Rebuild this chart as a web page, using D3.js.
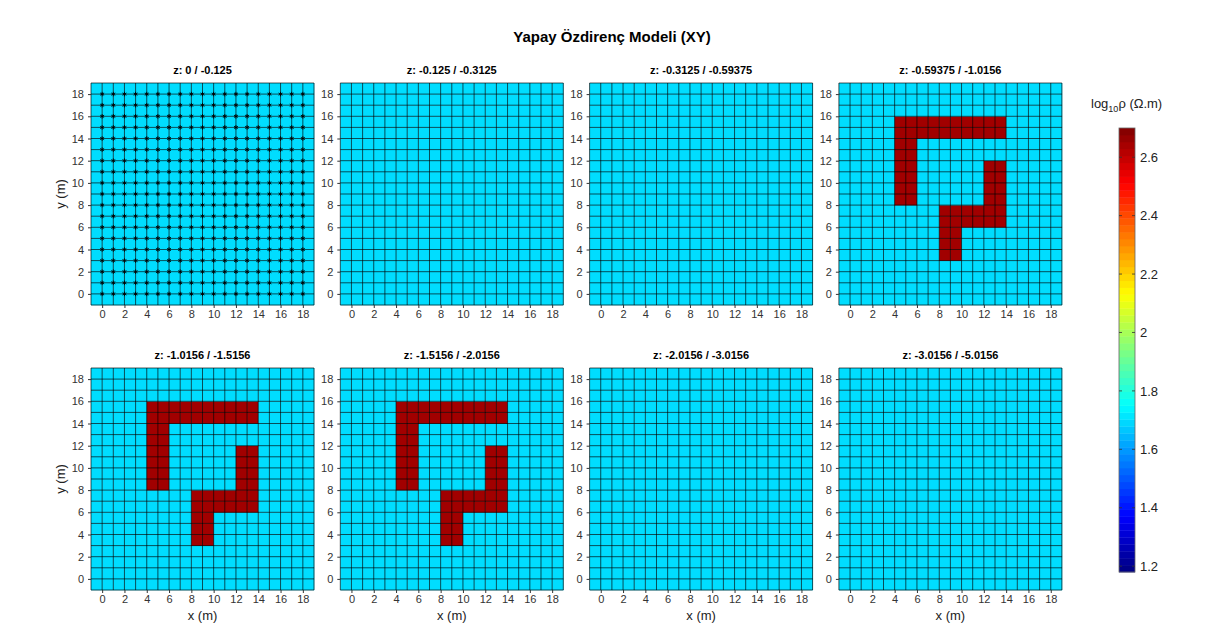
<!DOCTYPE html>
<html>
<head>
<meta charset="utf-8">
<script src="https://cdn.jsdelivr.net/npm/d3@7"></script>
<style>
  body { margin: 0; background: #fff; }
  text { font-family: "Liberation Sans", Arial, sans-serif; }
</style>
</head>
<body>
<div class="chart"></div>
<script>
var svgWidth = 1227;
var svgHeight = 644;

// data
var layerTitles = ["z: 0 / -0.125", "z: -0.125 / -0.3125", "z: -0.3125 / -0.59375", "z: -0.59375 / -1.0156",
  "z: -1.0156 / -1.5156", "z: -1.5156 / -2.0156", "z: -2.0156 / -3.0156", "z: -3.0156 / -5.0156"];
var layerHasBlock = [false, false, false, true, true, true, false, false];
var backgroundLog = 1.70;
var blockLog = 2.65;
// anomaly rectangles: [x0, x1, y0, y1]
var blockRects = [[4, 14, 14, 16], [4, 6, 8, 14], [12, 14, 6, 12], [8, 14, 6, 8], [8, 10, 3, 6]];
var cellEdges = d3.range(-1, 20);          // -1 ... 19
var axisTicks = d3.range(0, 19, 2);        // 0, 2, ... 18
var stationPts = d3.range(0, 19);          // electrode grid 0..18
var colorTicks = [1.2, 1.4, 1.6, 1.8, 2, 2.2, 2.4, 2.6];
var colorMin = 1.18, colorMax = 2.70;

// layout
var panelLeft = 91, colStep = 249.3, panelW = 223, panelH = 222;
var rowTop = [83, 368];

function jet(t) {
  t = Math.max(0, Math.min(1, t));
  var r = Math.max(0, Math.min(1, Math.min(4 * t - 1.5, -4 * t + 4.5)));
  var g = Math.max(0, Math.min(1, Math.min(4 * t - 0.5, -4 * t + 3.5)));
  var b = Math.max(0, Math.min(1, Math.min(4 * t + 0.5, -4 * t + 2.5)));
  return d3.rgb(r * 255, g * 255, b * 255).toString();
}
var color = v => jet((v - colorMin) / (colorMax - colorMin));

// build cell table for each layer
function cellsFor(hasBlock) {
  var cells = [];
  for (var i = 0; i < cellEdges.length - 1; i++) {
    for (var j = 0; j < cellEdges.length - 1; j++) {
      var x0 = cellEdges[i], y0 = cellEdges[j];
      var inside = hasBlock && blockRects.some(r => x0 >= r[0] && x0 < r[1] && y0 >= r[2] && y0 < r[3]);
      cells.push({ x0: x0, x1: x0 + 1, y0: y0, y1: y0 + 1, v: inside ? blockLog : backgroundLog });
    }
  }
  return cells;
}

var svg = d3.select(".chart")
  .append("svg")
  .attr("width", svgWidth)
  .attr("height", svgHeight);

svg.append("text")
  .attr("x", 612).attr("y", 42)
  .attr("text-anchor", "middle")
  .attr("font-size", 15).attr("font-weight", "bold")
  .text("Yapay Özdirenç Modeli (XY)");

layerTitles.forEach(function(title, k) {
  var col = k % 4, row = Math.floor(k / 4);
  var g = svg.append("g")
    .attr("transform", `translate(${panelLeft + col * colStep}, ${rowTop[row]})`);

  var xScale = d3.scaleLinear().domain([-1, 19]).range([0, panelW]);
  var yScale = d3.scaleLinear().domain([-1, 19]).range([panelH, 0]);

  g.selectAll("rect.cell")
    .data(cellsFor(layerHasBlock[k]))
    .enter()
    .append("rect")
    .attr("class", "cell")
    .attr("x", d => xScale(d.x0))
    .attr("y", d => yScale(d.y1))
    .attr("width", d => xScale(d.x1) - xScale(d.x0) + 0.3)
    .attr("height", d => yScale(d.y0) - yScale(d.y1) + 0.3)
    .attr("fill", d => color(d.v));

  // cell edges
  g.selectAll("line.vx")
    .data(cellEdges).enter().append("line")
    .attr("x1", d => xScale(d)).attr("x2", d => xScale(d))
    .attr("y1", 0).attr("y2", panelH)
    .attr("stroke", "#000").attr("stroke-opacity", 0.65).attr("stroke-width", 1);
  g.selectAll("line.hy")
    .data(cellEdges).enter().append("line")
    .attr("y1", d => yScale(d)).attr("y2", d => yScale(d))
    .attr("x1", 0).attr("x2", panelW)
    .attr("stroke", "#000").attr("stroke-opacity", 0.65).attr("stroke-width", 1);

  // electrode points on first layer
  if (k === 0) {
    var pts = [];
    stationPts.forEach(x => stationPts.forEach(y => pts.push([x, y])));
    g.selectAll("path.pt")
      .data(pts).enter().append("path")
      .attr("transform", d => `translate(${xScale(d[0])}, ${yScale(d[1])})`)
      .attr("d", d3.symbol(d3.symbolAsterisk, 14))
      .attr("stroke", "#000").attr("stroke-width", 0.9);
  }

  var xAxis = d3.axisBottom(xScale).tickValues(axisTicks).tickSize(3).tickSizeOuter(0).tickPadding(2);
  var yAxis = d3.axisLeft(yScale).tickValues(axisTicks).tickSize(3).tickSizeOuter(0).tickPadding(4);

  var gx = g.append("g").attr("transform", `translate(0, ${panelH})`).call(xAxis);
  var gy = g.append("g").call(yAxis);
  [gx, gy].forEach(function(a) {
    a.select(".domain").remove();
    a.selectAll("line").attr("stroke", "#333");
    a.selectAll("text").attr("font-size", 11).attr("fill", "#333")
      .attr("font-family", "'Liberation Sans', Arial, sans-serif");
  });

  g.append("text")
    .attr("x", panelW / 2).attr("y", -9)
    .attr("text-anchor", "middle")
    .attr("font-size", 11).attr("font-weight", "bold")
    .text(title);

  if (col === 0) {
    g.append("text")
      .attr("transform", `translate(-26, ${panelH / 2}) rotate(-90)`)
      .attr("text-anchor", "middle")
      .attr("font-size", 13).attr("fill", "#222")
      .text("y (m)");
  }
  if (row === 1) {
    g.append("text")
      .attr("x", panelW / 2).attr("y", panelH + 30)
      .attr("text-anchor", "middle")
      .attr("font-size", 13).attr("fill", "#222")
      .text("x (m)");
  }
});

// colorbar
var cbX = 1119, cbW = 16, cbTop = 128, cbBottom = 572;
var cbScale = d3.scaleLinear().domain([colorMin, colorMax]).range([cbBottom, cbTop]);
var nBands = 64;
var bands = d3.range(nBands).map(i => colorMin + (i + 0.5) * (colorMax - colorMin) / nBands);
var bandH = (cbBottom - cbTop) / nBands;
var cb = svg.append("g");
cb.selectAll("rect")
  .data(bands).enter().append("rect")
  .attr("x", cbX).attr("width", cbW)
  .attr("y", d => cbScale(d) - bandH / 2)
  .attr("height", bandH + 0.4)
  .attr("fill", d => color(d));
cb.append("rect")
  .attr("x", cbX).attr("y", cbTop).attr("width", cbW).attr("height", cbBottom - cbTop)
  .attr("fill", "none").attr("stroke", "#666").attr("stroke-width", 0.8);
var cbAxis = d3.axisRight(cbScale).tickValues(colorTicks).tickSize(0).tickPadding(5)
  .tickFormat(d => d3.format("")(d));
var gcb = cb.append("g").attr("transform", `translate(${cbX + cbW}, 0)`).call(cbAxis);
gcb.select(".domain").remove();
gcb.selectAll("text").attr("font-size", 13).attr("fill", "#222")
  .attr("font-family", "'Liberation Sans', Arial, sans-serif");
cb.selectAll("line.ctick")
  .data(colorTicks).enter().append("line")
  .attr("x1", cbX).attr("x2", cbX + 3)
  .attr("y1", d => cbScale(d)).attr("y2", d => cbScale(d))
  .attr("stroke", "#333").attr("stroke-width", 0.8);
cb.selectAll("line.ctick2")
  .data(colorTicks).enter().append("line")
  .attr("x1", cbX + cbW - 3).attr("x2", cbX + cbW)
  .attr("y1", d => cbScale(d)).attr("y2", d => cbScale(d))
  .attr("stroke", "#333").attr("stroke-width", 0.8);

var lbl = svg.append("text")
  .attr("x", 1091).attr("y", 108)
  .attr("font-size", 13).attr("fill", "#222");
lbl.append("tspan").text("log");
lbl.append("tspan").attr("font-size", 9).attr("dy", 4).text("10");
lbl.append("tspan").attr("dy", -4).text("ρ (Ω.m)");
</script>
</body>
</html>
